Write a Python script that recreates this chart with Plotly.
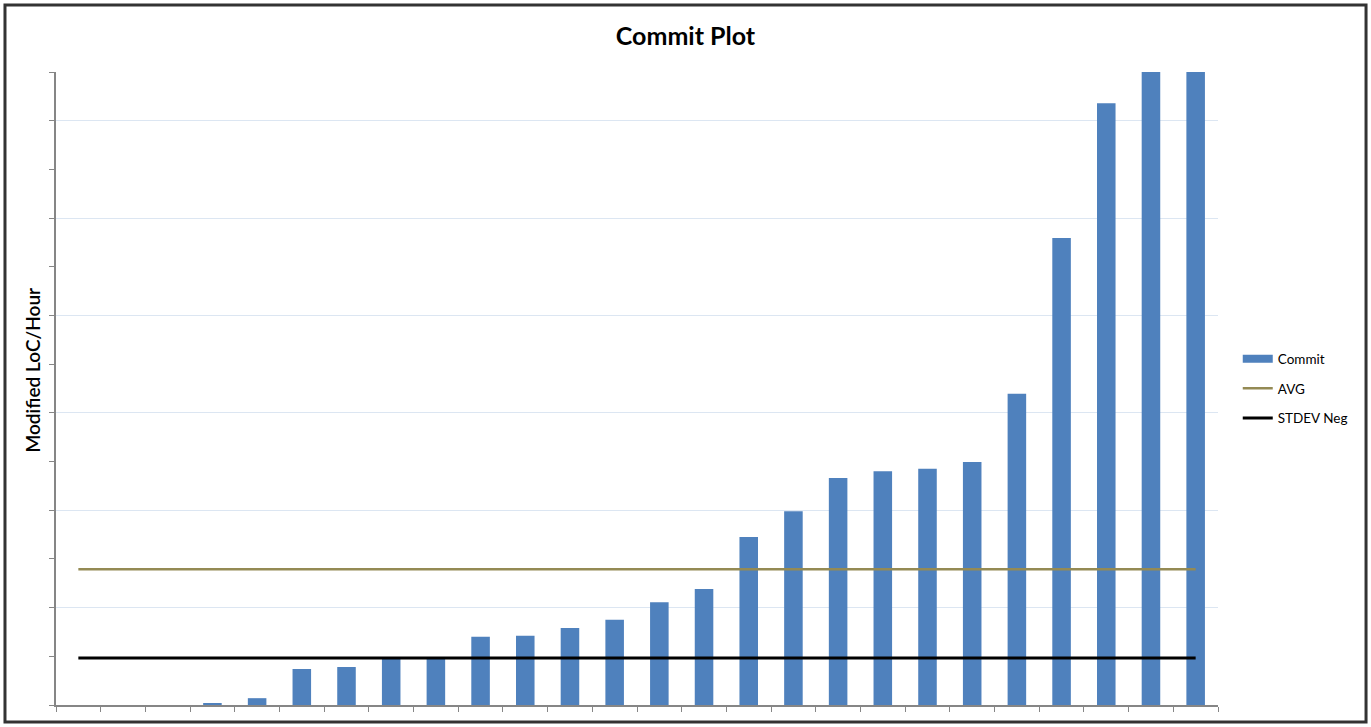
import plotly.graph_objects as go

# Commit series (modified lines of code per hour), sorted ascending
commit_ids = list(range(1, 27))
commit_values = [0, 0, 0, 0.4, 1.4, 7.4, 7.8, 9.7, 9.7, 14.0, 14.2, 15.8, 17.5,
                 21.1, 23.8, 34.5, 39.8, 46.6, 48.0, 48.5, 49.9, 63.9, 95.9,
                 123.6, 138.0, 152.0]
avg_value = 27.9
stdev_neg_value = 9.65

BLUE = "#4F81BD"
OLIVE = "#948A54"
FONT = "Lato, 'Open Sans', sans-serif"

fig = go.Figure()

fig.add_trace(go.Bar(
    x=commit_ids, y=commit_values, name="Commit",
    marker=dict(color=BLUE, line=dict(width=0)),
    showlegend=False,
))
fig.add_trace(go.Scatter(
    x=[commit_ids[0], commit_ids[-1]], y=[avg_value, avg_value],
    mode="lines", name="AVG", line=dict(color=OLIVE, width=2.5),
    showlegend=False,
))
fig.add_trace(go.Scatter(
    x=[commit_ids[0], commit_ids[-1]], y=[stdev_neg_value, stdev_neg_value],
    mode="lines", name="STDEV Neg", line=dict(color="black", width=3),
    showlegend=False,
))

# legend entries drawn as line samples
for name, color, width, grp in [("Commit", BLUE, 8, "a"),
                                ("AVG", OLIVE, 2.5, "b"),
                                ("STDEV Neg", "black", 3, "c")]:
    fig.add_trace(go.Scatter(
        x=[None], y=[None], mode="lines", name=name,
        line=dict(color=color, width=width), legendgroup=grp,
    ))

fig.update_layout(
    width=1371, height=727,
    margin=dict(l=56, r=153, t=72, b=22),
    paper_bgcolor="white", plot_bgcolor="white",
    font=dict(family=FONT, color="black"),
    title=dict(text="<b>Commit Plot</b>", x=0.5, xref="container",
               y=0.95, yanchor="middle",
               font=dict(size=25, family=FONT, color="black")),
    bargap=0.585,
    legend=dict(x=1.017, xanchor="left", y=0.5, yanchor="middle",
                font=dict(size=13.5, family=FONT), traceorder="grouped",
                tracegroupgap=9, bgcolor="rgba(0,0,0,0)"),
    shapes=[dict(type="rect", xref="paper", yref="paper",
                 x0=-0.0439, x1=1.1274, y0=-0.0269, y1=1.1058,
                 line=dict(color="#333333", width=3))],
    annotations=[dict(text="Modified LoC/Hour", textangle=-90,
                      xref="paper", yref="paper", x=-0.0198, y=0.53,
                      xanchor="center", yanchor="middle", showarrow=False,
                      font=dict(size=19, family=FONT, color="black",
                                weight=600))],
)

fig.update_xaxes(
    range=[0.5, 26.5], tick0=0.5, dtick=1,
    showticklabels=False, ticks="outside", ticklen=5, tickcolor="#868686",
    showline=True, linecolor="#868686", linewidth=1.5,
    showgrid=False, zeroline=False,
)
fig.update_yaxes(
    range=[0, 130], dtick=20, showticklabels=False,
    ticks="outside", ticklen=5, tickcolor="#868686",
    minor=dict(dtick=10, ticks="outside", ticklen=5, tickcolor="#868686",
               showgrid=False),
    showline=True, linecolor="#868686", linewidth=1.5,
    showgrid=True, gridcolor="#DCE6F2", gridwidth=1, zeroline=False,
)

fig.write_html("out.html")
